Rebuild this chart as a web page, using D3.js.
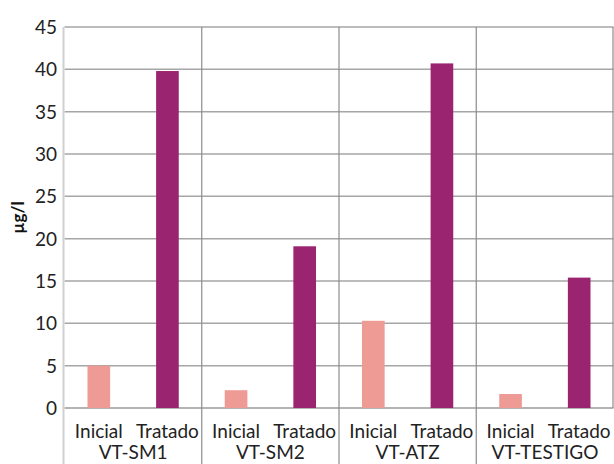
<!DOCTYPE html>
<html>
<head>
<meta charset="utf-8">
<script src="https://cdn.jsdelivr.net/npm/d3@7"></script>
<style>
  html, body { margin: 0; padding: 0; background: #fff; }
  svg { display: block; font-family: Lato, "Open Sans", sans-serif; }
</style>
</head>
<body>
<svg id="chart" width="614" height="464"></svg>
<script>
// Muestras y fases de medición
const groups = ["VT-SM1", "VT-SM2", "VT-ATZ", "VT-TESTIGO"];
const phases = ["Inicial", "Tratado"];
const inicial = [5.0, 2.1, 10.3, 1.65];
const tratado = [39.8, 19.1, 40.7, 15.4];
const yTicks = [0, 5, 10, 15, 20, 25, 30, 35, 40, 45];
const yTitle = "µg/l";
const colors = { "Inicial": "#ee9a95", "Tratado": "#9b2470" };

const rows = groups.map((g, i) => ({
  group: g,
  values: [
    { phase: "Inicial", value: inicial[i] },
    { phase: "Tratado", value: tratado[i] }
  ]
}));

const svg = d3.select("#chart");
const m = { left: 64.5, right: 613.5, top: 27, bottom: 408 };

const x0 = d3.scaleBand().domain(groups).range([m.left, m.right]).padding(0);
const x1 = d3.scaleBand().domain(phases).range([0, x0.bandwidth()]).padding(0);
const barW = x1.bandwidth() * 0.33;
const y = d3.scaleLinear().domain([0, 45]).range([m.bottom, m.top]);

// Líneas horizontales de cuadrícula
svg.append("g")
  .selectAll("line")
  .data(yTicks)
  .join("line")
  .attr("x1", m.left).attr("x2", m.right)
  .attr("y1", d => y(d)).attr("y2", d => y(d))
  .attr("stroke", d => d === 0 ? "#9a9a9a" : "#a6a6a6")
  .attr("stroke-width", 1.5);

// Separadores entre grupos (atraviesan la zona de etiquetas)
const seps = groups.slice(1).map(g => x0(g)).concat([m.right - 0.5]);
svg.append("g")
  .selectAll("line")
  .data(seps)
  .join("line")
  .attr("x1", d => d).attr("x2", d => d)
  .attr("y1", m.top).attr("y2", (d, i) => i === seps.length - 1 ? m.bottom : 464)
  .attr("stroke", "#8c8c8c")
  .attr("stroke-width", 1.2);

// Eje vertical
svg.append("line")
  .attr("x1", m.left - 1).attr("x2", m.left - 1)
  .attr("y1", m.top).attr("y2", 464)
  .attr("stroke", "#d0d0d0")
  .attr("stroke-width", 2);

// Barras
const g = svg.append("g")
  .selectAll("g")
  .data(rows)
  .join("g")
  .attr("transform", d => `translate(${x0(d.group)},0)`);

g.selectAll("rect")
  .data(d => d.values)
  .join("rect")
  .attr("x", d => x1(d.phase) + (x1.bandwidth() - barW) / 2)
  .attr("width", barW)
  .attr("y", d => y(d.value))
  .attr("height", d => y(0) - y(d.value))
  .attr("fill", d => colors[d.phase]);

// Etiquetas de fase
g.selectAll("text.phase")
  .data(d => d.values)
  .join("text")
  .attr("class", "phase")
  .attr("x", d => x1(d.phase) + x1.bandwidth() / 2)
  .attr("y", 438)
  .attr("text-anchor", "middle")
  .attr("font-size", 19)
  .attr("fill", "#222")
  .text(d => d.phase);

// Etiquetas de grupo
g.append("text")
  .attr("x", x0.bandwidth() / 2)
  .attr("y", 459)
  .attr("text-anchor", "middle")
  .attr("font-size", 19)
  .attr("fill", "#222")
  .text(d => d.group);

// Marcas del eje Y
svg.append("g")
  .selectAll("text")
  .data(yTicks)
  .join("text")
  .attr("x", 57)
  .attr("y", d => y(d))
  .attr("dy", "0.36em")
  .attr("text-anchor", "end")
  .attr("font-size", 19)
  .attr("fill", "#222")
  .text(d => d);

// Título del eje Y
svg.append("text")
  .attr("transform", `translate(24,${(m.top + m.bottom) / 2}) rotate(-90)`)
  .attr("text-anchor", "middle")
  .attr("font-size", 17)
  .attr("font-weight", "bold")
  .attr("fill", "#111")
  .text(yTitle);
</script>
</body>
</html>
